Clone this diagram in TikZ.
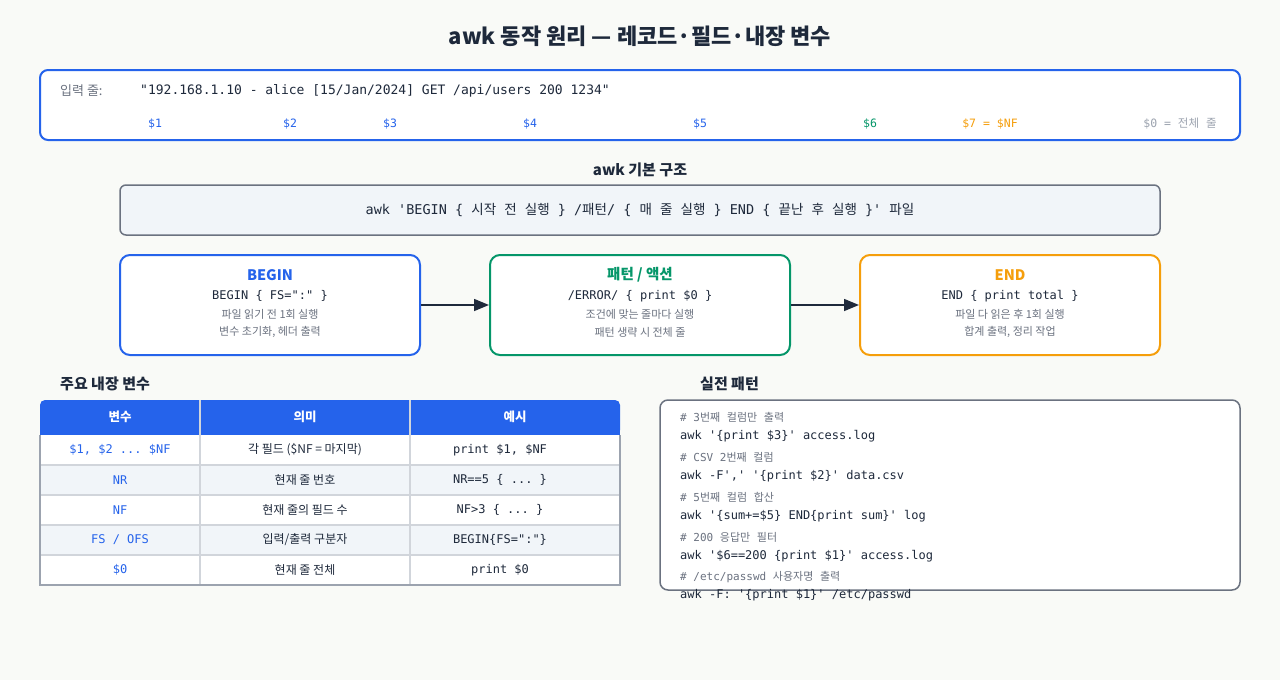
\documentclass[tikz,border=0pt]{standalone}
\usepackage{fontspec}
\setmainfont{DejaVu Sans}
\setmonofont{DejaVu Sans Mono}
\newfontfamily\kr{Noto Sans CJK KR}
\newcommand{\K}[1]{{\kr #1}}
\newcommand{\pxsize}[1]{\fontsize{#1}{#1}\selectfont}
\usetikzlibrary{arrows.meta, positioning}

\definecolor{pagebg}{HTML}{F9FAF7}
\definecolor{ink}{HTML}{1E293B}
\definecolor{fieldblue}{HTML}{2563EB}
\definecolor{fieldgreen}{HTML}{059669}
\definecolor{fieldorange}{HTML}{F59E0B}
\definecolor{mutedgray}{HTML}{6B7280}
\definecolor{lightgray}{HTML}{9CA3AF}
\definecolor{panelfill}{HTML}{F1F5F9}
\definecolor{gridline}{HTML}{D1D5DB}

\begin{document}
\begin{tikzpicture}[x=1pt, y=-1pt,
  fieldtag/.style={font=\ttfamily\pxsize{11.5}},
  sechead/.style={anchor=west, inner xsep=0pt, font=\kr\bfseries\pxsize{15}, text=ink},
  stagebox/.style={line width=2pt, fill=white, rounded corners=10pt, minimum width=300pt, minimum height=100pt},
  stagetitle/.style={font=\kr\bfseries\pxsize{14.5}},
  stagecode/.style={font=\ttfamily\pxsize{12}, text=ink},
  stagenote/.style={font=\kr\pxsize{11}, text=mutedgray},
  flow/.style={-{Triangle[length=15pt, width=12pt]}, line width=1.5pt, ink},
  headcell/.style={font=\kr\bfseries\pxsize{12.5}, text=white},
  varcell/.style={font=\ttfamily\pxsize{12}, text=fieldblue},
  meancell/.style={font=\kr\pxsize{12}, text=ink},
  excell/.style={font=\ttfamily\pxsize{12}, text=ink},
  cmtline/.style={anchor=west, inner xsep=0pt, font=\ttfamily\pxsize{11}, text=mutedgray},
  codeline/.style={anchor=west, inner xsep=0pt, font=\ttfamily\pxsize{12}, text=ink}]
\fill [pagebg] (0,0) rectangle (1280,680);
\useasboundingbox (0,0) rectangle (1280,680);

% title
\node (title) at (640,36) [font=\kr\bfseries\pxsize{22}, text=ink] {awk 동작 원리 — 레코드·필드·내장 변수};

% input line with field numbers
\node (inputbox) at (640,105) [draw=fieldblue, line width=2pt, fill=white, rounded corners=8pt, minimum width=1200pt, minimum height=70pt] {};
\node (inputlbl) at (60,91) [anchor=west, inner xsep=0pt, font=\kr\pxsize{13}, text=mutedgray] {입력 줄:};
\node (inputline) at (140,91) [anchor=west, inner xsep=0pt, font=\ttfamily\pxsize{13}, text=ink] {"192.168.1.10 - alice [15/Jan/2024] GET /api/users 200 1234"};
\node (f1) at (155,124) [fieldtag, text=fieldblue] {\$1};
\node (f2) at (290,124) [fieldtag, text=fieldblue] {\$2};
\node (f3) at (390,124) [fieldtag, text=fieldblue] {\$3};
\node (f4) at (530,124) [fieldtag, text=fieldblue] {\$4};
\node (f5) at (700,124) [fieldtag, text=fieldblue] {\$5};
\node (f6) at (870,124) [fieldtag, text=fieldgreen] {\$6};
\node (f7) at (990,124) [fieldtag, text=fieldorange] {\$7 = \$NF};
\node (f0) at (1180,124) [fieldtag, text=lightgray] {\$0 = \K{전체} \K{줄}};

% basic structure
\node (structhead) at (640,170) [font=\kr\bfseries\pxsize{15}, text=ink] {awk 기본 구조};
\node (structbox) at (640,210) [draw=mutedgray, line width=1.5pt, fill=panelfill, rounded corners=6pt, minimum width=1040pt, minimum height=50pt, font=\ttfamily\pxsize{13.5}, text=ink] {awk 'BEGIN \{ \K{시작} \K{전} \K{실행} \} /\K{패턴}/ \{ \K{매} \K{줄} \K{실행} \} END \{ \K{끝난} \K{후} \K{실행} \}' \K{파일}};

% three stages
\node (beginbox) at (270,305) [stagebox, draw=fieldblue] {};
\node (patternbox) at (640,305) [stagebox, draw=fieldgreen] {};
\node (endbox) at (1010,305) [stagebox, draw=fieldorange] {};
\draw [flow] (beginbox) -- (patternbox);
\draw [flow] (patternbox) -- (endbox);

\node (begintitle) at (270,275) [stagetitle, text=fieldblue] {BEGIN};
\node (begincode) at (270,296) [stagecode] {BEGIN \{ FS=":" \}};
\node (beginnote1) at (270,314) [stagenote] {파일 읽기 전 1회 실행};
\node (beginnote2) at (270,332) [stagenote] {변수 초기화, 헤더 출력};

\node (pattitle) at (640,275) [stagetitle, text=fieldgreen] {패턴 / 액션};
\node (patcode) at (640,296) [stagecode] {/ERROR/ \{ print \$0 \}};
\node (patnote1) at (640,314) [stagenote] {조건에 맞는 줄마다 실행};
\node (patnote2) at (640,332) [stagenote] {패턴 생략 시 전체 줄};

\node (endtitle) at (1010,275) [stagetitle, text=fieldorange] {END};
\node (endcode) at (1010,296) [stagecode] {END \{ print total \}};
\node (endnote1) at (1010,314) [stagenote] {파일 다 읽은 후 1회 실행};
\node (endnote2) at (1010,332) [stagenote] {합계 출력, 정리 작업};

% built-in variables table
\node (varhead) at (60,384) [sechead] {주요 내장 변수};
\fill [fieldblue, rounded corners=5pt] (40,400) rectangle (620,435);
\fill [fieldblue] (40,420) rectangle (620,435);
\fill [white] (40,435) rectangle (620,585);
\fill [panelfill] (40,465) rectangle (620,495);
\fill [panelfill] (40,525) rectangle (620,555);
\draw [gridline, line width=1.5pt] (200,400) -- (200,585);
\draw [gridline, line width=1.5pt] (410,400) -- (410,585);
\draw [gridline, line width=1.5pt] (40,465) -- (620,465);
\draw [gridline, line width=1.5pt] (40,495) -- (620,495);
\draw [gridline, line width=1.5pt] (40,525) -- (620,525);
\draw [gridline, line width=1.5pt] (40,555) -- (620,555);
\draw [lightgray, line width=1.5pt] (40,435) -- (40,585) -- (620,585) -- (620,435);

\node (hvar) at (120,417) [headcell] {변수};
\node (hmean) at (305,417) [headcell] {의미};
\node (hex) at (515,417) [headcell] {예시};

\node (v1) at (120,450) [varcell] {\$1, \$2 ... \$NF};
\node (m1) at (305,450) [meancell] {각 필드 (\$NF = 마지막)};
\node (e1) at (500,450) [excell] {print \$1, \$NF};
\node (v2) at (120,480) [varcell] {NR};
\node (m2) at (305,480) [meancell] {현재 줄 번호};
\node (e2) at (500,480) [excell] {NR==5 \{ ... \}};
\node (v3) at (120,510) [varcell] {NF};
\node (m3) at (305,510) [meancell] {현재 줄의 필드 수};
\node (e3) at (500,510) [excell] {NF>3 \{ ... \}};
\node (v4) at (120,540) [varcell] {FS / OFS};
\node (m4) at (305,540) [meancell] {입력/출력 구분자};
\node (e4) at (500,540) [excell] {BEGIN\{FS=":"\}};
\node (v5) at (120,570) [varcell] {\$0};
\node (m5) at (305,570) [meancell] {현재 줄 전체};
\node (e5) at (500,570) [excell] {print \$0};

% practical patterns
\node (pathead) at (700,384) [sechead] {실전 패턴};
\node (patbox) at (950,495) [draw=mutedgray, line width=1.5pt, fill=white, rounded corners=8pt, minimum width=580pt, minimum height=190pt] {};
\node (c1) at (680,417) [cmtline] {\# 3\K{번째} \K{컬럼만} \K{출력}};
\node (p1) at (680,436) [codeline] {awk '\{print \$3\}' access.log};
\node (c2) at (680,457) [cmtline] {\# CSV 2\K{번째} \K{컬럼}};
\node (p2) at (680,476) [codeline] {awk -F',' '\{print \$2\}' data.csv};
\node (c3) at (680,497) [cmtline] {\# 5\K{번째} \K{컬럼} \K{합산}};
\node (p3) at (680,516) [codeline] {awk '\{sum+=\$5\} END\{print sum\}' log};
\node (c4) at (680,537) [cmtline] {\# 200 \K{응답만} \K{필터}};
\node (p4) at (680,556) [codeline] {awk '\$6==200 \{print \$1\}' access.log};
\node (c5) at (680,577) [cmtline] {\# /etc/passwd \K{사용자명} \K{출력}};
\node (p5) at (680,595) [codeline] {awk -F: '\{print \$1\}' /etc/passwd};
\end{tikzpicture}
\end{document}
